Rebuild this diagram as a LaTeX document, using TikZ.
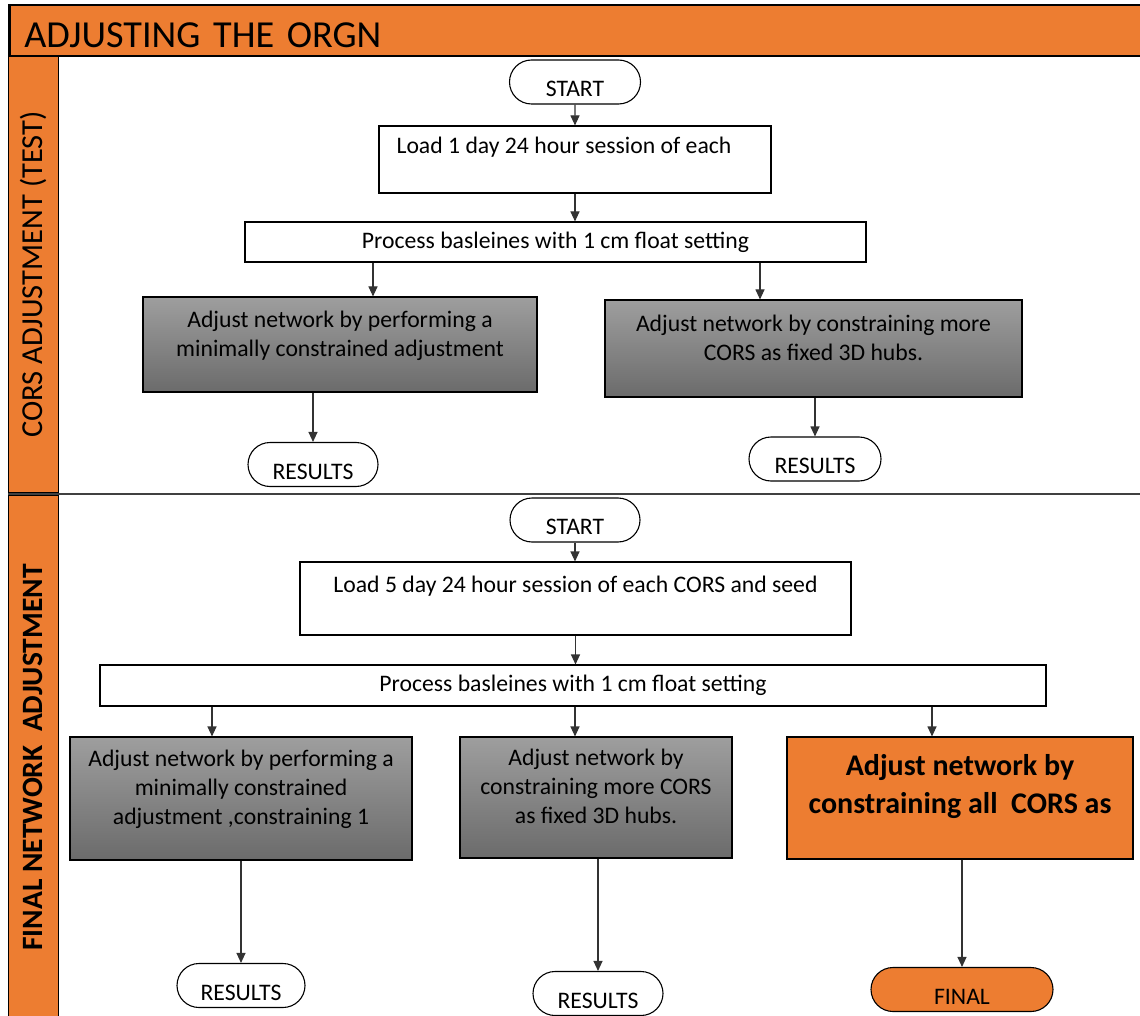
\documentclass[tikz,border=0pt]{standalone}
\usepackage{fontspec}
\setmainfont{Carlito}
\usetikzlibrary{arrows.meta,positioning,shapes.misc}
\definecolor{orgn}{HTML}{ED7D31}
\definecolor{shadetop}{gray}{0.62}
\definecolor{shadebot}{gray}{0.42}

\begin{document}
\begin{tikzpicture}[
  x=1pt,
  y=-1pt,
  every node/.style={font=\fontsize{23.7}{29}\selectfont},
  banner/.style={draw=black, line width=2.5pt, fill=orgn, anchor=west, minimum width=1140, minimum height=51, text width=1110, align=left, inner xsep=14, inner ysep=0, text height=34pt, text depth=0pt, font=\fontsize{38.2}{40}\selectfont},
  lane/.style={draw=black, line width=1pt, fill=orgn, rotate=90, minimum height=50, inner sep=0},
  term/.style={draw=black, line width=1.1pt, fill=white, rounded rectangle, minimum height=44, inner sep=2pt, text height=29pt, text depth=0pt},
  plain/.style={draw=black, line width=1.1pt, fill=white, align=center, inner sep=0},
  greybox/.style={draw=black, line width=1.1pt, top color=shadetop, bottom color=shadebot, align=center, inner sep=0},
  hotbox/.style={draw=black, line width=1.1pt, fill=orgn, align=center, inner sep=0, font=\bfseries\fontsize{30}{38}\selectfont},
  flow/.style={draw=black!80, line width=1.1pt, -{Triangle[length=10pt,width=9pt]}}
]
\useasboundingbox (0,0) rectangle (1140,1016);
\fill[white] (0,0) rectangle (1140,1016);
% title bar and swimlanes
\node[banner] (title) at (8,30.5) {ADJUSTING THE ORGN};
\node[lane, minimum width=435, font=\fontsize{30.5}{32}\selectfont] (lanetest) at (33,274.5) {CORS ADJUSTMENT (TEST)};
\node[lane, minimum width=525, font=\bfseries\fontsize{29.5}{32}\selectfont] (lanefinal) at (33,757.5) {FINAL NETWORK\ \ ADJUSTMENT};
\draw[line width=1.5pt, black!75] (8,494) -- (1140,494);
% test adjustment
\node[term, minimum width=135] (start1) at (575,82) {START};
\node[plain, minimum width=392, minimum height=67] (load1) at (575,159.5) {Load 1 day 24 hour session of each\hspace*{22pt}\\ \mbox{}};
\node[plain, minimum width=621, minimum height=40] (proc1) at (555.5,242) {Process basleines with 1 cm float setting};
\node[greybox, minimum width=394, minimum height=95] (adj1a) at (340,344.5) {Adjust network by performing a\\ minimally constrained adjustment\\[-8pt] \mbox{}};
\node[greybox, minimum width=417, minimum height=97] (adj1b) at (813.5,348.5) {Adjust network by constraining more\\ CORS as fixed 3D hubs.\\[-8pt] \mbox{}};
\node[term, minimum width=134] (res1a) at (313,464.5) {RESULTS};
\node[term, minimum width=136] (res1b) at (815,459) {RESULTS};
\draw[flow] (start1) -- (load1);
\draw[flow] (load1.south) -- (load1.south |- proc1.north);
\draw[flow] ([xshift=33pt]adj1a.north |- proc1.south) -- ([xshift=33pt]adj1a.north);
\draw[flow] ([xshift=-53.5pt]adj1b.north |- proc1.south) -- ([xshift=-53.5pt]adj1b.north);
\draw[flow] (adj1a.south -| res1a.north) -- (res1a.north);
\draw[flow] (adj1b.south -| res1b.north) -- (res1b.north);
% final adjustment
\node[term, minimum width=134] (start2) at (575,520) {START};
\node[plain, minimum width=551, minimum height=73] (load2) at (575.5,598.5) {Load 5 day 24 hour session of each CORS and seed\\ \mbox{}};
\node[plain, minimum width=946, minimum height=41] (proc2) at (573,685.5) {Process basleines with 1 cm float setting};
\node[greybox, minimum width=342, minimum height=123] (adj2a) at (241,798.5) {Adjust network by performing a\\ minimally constrained\\ adjustment ,constraining 1\\[-6pt] \mbox{}};
\node[greybox, minimum width=272, minimum height=121] (adj2b) at (596,797.5) {Adjust network by\\ constraining more CORS\\ as fixed 3D hubs.\\[-6pt] \mbox{}};
\node[hotbox, minimum width=346, minimum height=122] (adj2c) at (960,798) {Adjust network by\\ constraining all\ \ CORS as\\[-9pt] \mbox{}};
\node[term, minimum width=132] (res2a) at (241,985.5) {RESULTS};
\node[term, minimum width=134] (res2b) at (598,993.5) {RESULTS};
\node[term, fill=orgn, minimum width=186] (fin2) at (962,989.5) {FINAL};
\draw[flow] (start2.south) -- (start2.south |- load2.north);
\draw[flow] (load2.south) -- (load2.south |- proc2.north);
\draw[flow] ([xshift=-29pt]adj2a.north |- proc2.south) -- ([xshift=-29pt]adj2a.north);
\draw[flow] ([xshift=-21pt]adj2b.north |- proc2.south) -- ([xshift=-21pt]adj2b.north);
\draw[flow] ([xshift=-28pt]adj2c.north |- proc2.south) -- ([xshift=-28pt]adj2c.north);
\draw[flow] (adj2a.south -| res2a.north) -- (res2a.north);
\draw[flow] (adj2b.south -| res2b.north) -- (res2b.north);
\draw[flow] (adj2c.south -| fin2.north) -- (fin2.north);
\end{tikzpicture}
\end{document}
